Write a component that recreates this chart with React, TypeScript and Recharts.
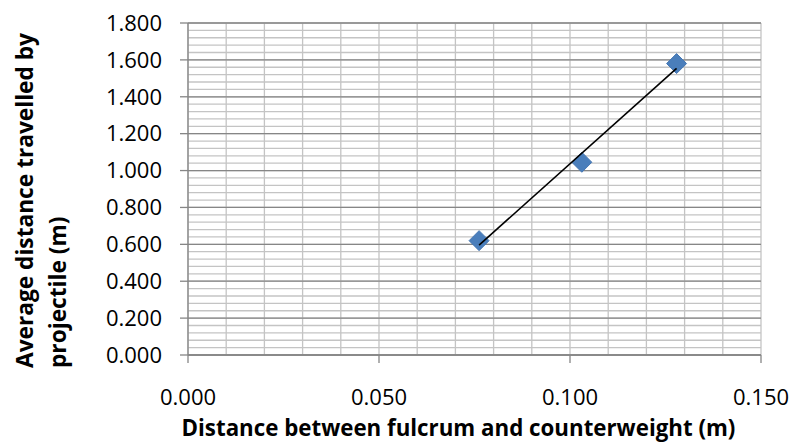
import React from "react";
import {
  CartesianGrid,
  Label,
  Scatter,
  ScatterChart,
  XAxis,
  YAxis,
} from "recharts";

// measured points: distance fulcrum-counterweight (m) vs average throw (m)
const fulcrumDist = [0.0762, 0.1031, 0.1279];
const avgThrow = [0.62, 1.045, 1.58];

// linear trendline ends
const trendX = [0.0762, 0.1279];
const trendY = [0.596, 1.554];

const xTicks = [0, 0.05, 0.1, 0.15];
const yTicks = [0, 0.2, 0.4, 0.6, 0.8, 1.0, 1.2, 1.4, 1.6, 1.8];

// Excel-style minor gridlines
const xMinor = [0, 0.01, 0.02, 0.03, 0.04, 0.05, 0.06, 0.07, 0.08, 0.09, 0.1, 0.11, 0.12, 0.13, 0.14, 0.15];
const yMinor = [
  0, 0.04, 0.08, 0.12, 0.16, 0.2, 0.24, 0.28, 0.32, 0.36, 0.4, 0.44, 0.48, 0.52, 0.56,
  0.6, 0.64, 0.68, 0.72, 0.76, 0.8, 0.84, 0.88, 0.92, 0.96, 1.0, 1.04, 1.08, 1.12, 1.16,
  1.2, 1.24, 1.28, 1.32, 1.36, 1.4, 1.44, 1.48, 1.52, 1.56, 1.6, 1.64, 1.68, 1.72, 1.76, 1.8,
];

const points = fulcrumDist.map((x, i) => ({ x, y: avgThrow[i] }));
const trend = trendX.map((x, i) => ({ x, y: trendY[i] }));

const FONT = "'Open Sans', 'Liberation Sans', sans-serif";
const TICK = { fontSize: 22, fill: "#000", fontFamily: FONT };
const TITLE = { fontSize: 22.7, fontWeight: 700, fontFamily: FONT, fill: "#000" };
const AXIS_GREY = "#868686";
const MINOR_GREY = "#c4c4c4";

function Diamond({ cx, cy }: { cx?: number; cy?: number }) {
  if (cx == null || cy == null) return null;
  const r = 10;
  return (
    <polygon
      points={`${cx},${cy - r} ${cx + r},${cy} ${cx},${cy + r} ${cx - r},${cy}`}
      fill="#4A7EBB"
      stroke="#4577B3"
      strokeWidth={1}
    />
  );
}

function YTitle({ viewBox }: { viewBox?: { x: number; y: number; width: number; height: number } }) {
  if (!viewBox) return null;
  const y0 = viewBox.y + viewBox.height + 13;
  return (
    <g>
      <text x={25} y={y0} transform={`rotate(-90 25 ${y0})`} dy="0.35em" textAnchor="start" style={TITLE}>
        Average distance travelled by
      </text>
      <text x={58} y={y0} transform={`rotate(-90 58 ${y0})`} dy="0.35em" textAnchor="start" style={TITLE}>
        projectile (m)
      </text>
    </g>
  );
}

export default function App() {
  return (
    <div style={{ position: "absolute", left: 0, top: 0, background: "#fff" }}>
      <ScatterChart
        width={793}
        height={444}
        margin={{ top: 23, right: 32, left: 0, bottom: 0 }}
      >
        <CartesianGrid
          horizontalValues={yMinor}
          verticalValues={xMinor}
          syncWithTicks
          stroke={MINOR_GREY}
          strokeWidth={1.3}
        />
        <CartesianGrid
          vertical={false}
          horizontalValues={yTicks}
          stroke={AXIS_GREY}
          strokeWidth={1.3}
        />

        <XAxis
          type="number"
          dataKey="x"
          domain={[0, 0.15]}
          ticks={xTicks}
          interval={0}
          tickFormatter={(v: number) => v.toFixed(3)}
          tick={TICK}
          tickSize={8}
          tickMargin={26}
          height={89}
          stroke={AXIS_GREY}
          strokeWidth={1.3}
        >
          <Label
            value="Distance between fulcrum and counterweight (m)"
            position="insideBottom"
            offset={8}
            dx={-16}
            style={{ ...TITLE, fontSize: 22.3 }}
          />
        </XAxis>
        <YAxis
          type="number"
          dataKey="y"
          domain={[0, 1.8]}
          ticks={yTicks}
          interval={0}
          tickFormatter={(v: number) => v.toFixed(3)}
          tick={TICK}
          tickSize={8}
          tickMargin={18}
          width={188}
          stroke={AXIS_GREY}
          strokeWidth={1.3}
        >
          <Label content={<YTitle />} />
        </YAxis>

        <Scatter data={points} shape={<Diamond />} isAnimationActive={false} />
        <Scatter
          data={trend}
          line={{ stroke: "#000", strokeWidth: 1.6 }}
          shape={() => null}
          isAnimationActive={false}
        />
      </ScatterChart>
    </div>
  );
}
